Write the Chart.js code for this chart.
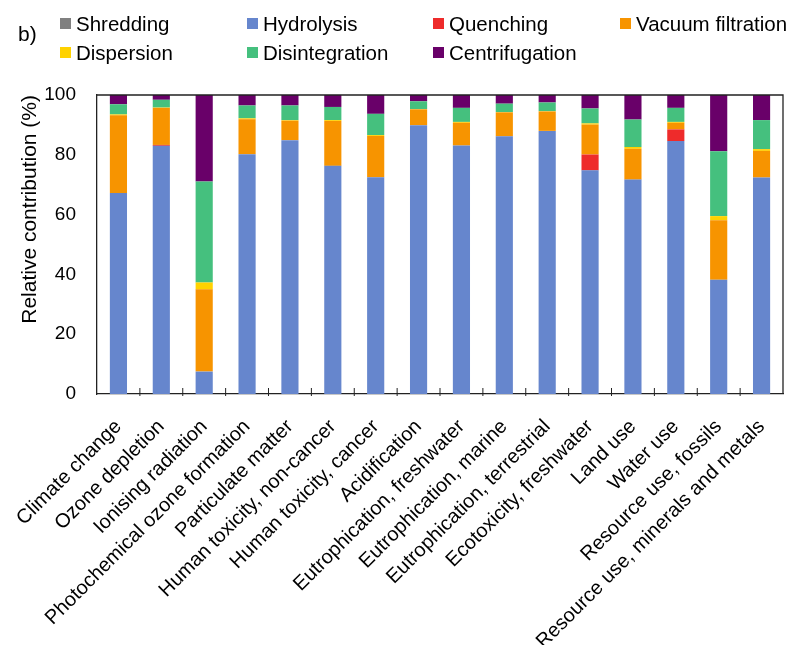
<!DOCTYPE html>
<html>
<head>
<meta charset="utf-8">
<script src="https://cdn.jsdelivr.net/npm/chart.js@4.4.1/dist/chart.umd.min.js"></script>
<style>
  html, body { margin: 0; padding: 0; background: #fff; }
  #wrap { position: relative; width: 795px; height: 645px; font-family: "Liberation Sans", Arial, sans-serif; }
  #chart { position: absolute; left: 0; top: 0; }
  #tag { position: absolute; left: 18px; top: 22px; font-size: 21px; color: #000; }
  #legend { position: absolute; left: 60px; top: 11px; display: grid;
    grid-template-columns: 187px 186px 187px 175px; row-gap: 4px; font-size: 20.5px; color: #000; }
  #legend div { display: flex; align-items: center; white-space: nowrap; height: 25px; }
  #legend span { display: inline-block; width: 11px; height: 11px; margin-right: 5px; }
</style>
</head>
<body>
<div id="wrap">
  <canvas id="chart" width="795" height="645"></canvas>
  <div id="tag">b)</div>
  <div id="legend"></div>
</div>
<script>
const categories = [
  "Climate change", "Ozone depletion", "Ionising radiation", "Photochemical ozone formation",
  "Particulate matter", "Human toxicity, non-cancer", "Human toxicity, cancer", "Acidification",
  "Eutrophication, freshwater", "Eutrophication, marine", "Eutrophication, terrestrial",
  "Ecotoxicity, freshwater", "Land use", "Water use", "Resource use, fossils",
  "Resource use, minerals and metals"
];
// contributions in %, bottom to top of each stack
const shredding      = [0, 0, 0, 0, 0, 0, 0, 0, 0, 0, 0, 0, 0, 0, 0, 0];
const hydrolysis     = [67.2, 83.0, 7.5, 80.2, 84.9, 76.3, 72.5, 89.9, 83.1, 86.2, 88.0, 74.8, 71.7, 84.6, 38.2, 72.4];
const quenching      = [0, 0.3, 0, 0, 0, 0, 0, 0, 0, 0, 0, 5.3, 0, 3.9, 0, 0];
const vacuumFilt     = [26.0, 12.4, 27.5, 11.7, 6.5, 15.0, 13.8, 5.3, 7.6, 8.0, 6.5, 10.0, 10.3, 2.2, 19.9, 8.9];
const dispersion     = [0.3, 0.1, 2.3, 0.3, 0.2, 0.3, 0.3, 0.1, 0.3, 0.1, 0.1, 0.4, 0.6, 0.3, 1.4, 0.6];
const disintegration = [3.4, 2.6, 33.8, 4.3, 4.9, 4.4, 7.1, 2.6, 4.7, 2.8, 2.9, 5.0, 9.2, 4.7, 21.7, 9.7];
const centrifugation = [3.1, 1.6, 28.9, 3.5, 3.5, 4.0, 6.3, 2.1, 4.3, 2.9, 2.5, 4.5, 8.2, 4.3, 18.8, 8.4];
const yTicks = [0, 20, 40, 60, 80, 100];

const series = [
  { label: "Shredding", data: shredding, color: "#808080" },
  { label: "Hydrolysis", data: hydrolysis, color: "#6686CD" },
  { label: "Quenching", data: quenching, color: "#EE2B2B" },
  { label: "Vacuum filtration", data: vacuumFilt, color: "#F79400" },
  { label: "Dispersion", data: dispersion, color: "#FFD200" },
  { label: "Disintegration", data: disintegration, color: "#45C07E" },
  { label: "Centrifugation", data: centrifugation, color: "#690069" }
];

// html legend in the same column order as the figure
const legendEl = document.getElementById("legend");
series.forEach(s => {
  const d = document.createElement("div");
  d.innerHTML = '<span style="background:' + s.color + '"></span>' + s.label;
  legendEl.appendChild(d);
});

// top/right frame and the small inward ticks between categories
const framePlugin = {
  id: "frame",
  afterDraw(chart) {
    const { ctx, chartArea: a, scales } = chart;
    const x = scales.x;
    ctx.save();
    ctx.strokeStyle = "#222";
    ctx.lineWidth = 1.3;
    ctx.beginPath();
    ctx.moveTo(a.left, a.top);
    ctx.lineTo(a.right, a.top);
    ctx.lineTo(a.right, a.bottom);
    ctx.stroke();
    ctx.lineWidth = 1;
    ctx.beginPath();
    for (let i = 1; i < categories.length; i++) {
      const px = (x.getPixelForValue(i - 1) + x.getPixelForValue(i)) / 2;
      ctx.moveTo(px, a.bottom + 2);
      ctx.lineTo(px, a.bottom - 6);
    }
    ctx.stroke();
    ctx.restore();
  }
};

Chart.defaults.font.family = '"Liberation Sans", Arial, sans-serif';
Chart.defaults.color = "#000";

new Chart(document.getElementById("chart"), {
  type: "bar",
  plugins: [framePlugin],
  data: {
    labels: categories,
    datasets: series.map(s => ({
      label: s.label,
      data: s.data,
      backgroundColor: s.color,
      borderWidth: 0,
      barPercentage: 0.4,
      categoryPercentage: 1.0
    }))
  },
  options: {
    responsive: false,
    animation: false,
    layout: { padding: { top: 95, right: 12, left: 0, bottom: 0 } },
    plugins: { legend: { display: false }, tooltip: { enabled: false } },
    scales: {
      x: {
        stacked: true,
        afterFit: scale => { scale.height = 251; },
        grid: { display: false },
        border: { display: true, color: "#222", width: 1.3 },
        ticks: { font: { size: 20 }, maxRotation: 45, minRotation: 45, padding: 13, autoSkip: false }
      },
      y: {
        stacked: true,
        min: 0,
        max: 100,
        afterFit: scale => { scale.width = 97; },
        afterBuildTicks: scale => { scale.ticks = yTicks.map(v => ({ value: v })); },
        grid: { display: false, drawTicks: false },
        border: { display: true, color: "#222", width: 1.3 },
        ticks: { font: { size: 19 }, padding: 21 },
        title: { display: true, text: "Relative contribution (%)", align: "end", font: { size: 21 }, padding: { top: 18, bottom: 0 } }
      }
    }
  }
});
</script>
</body>
</html>
